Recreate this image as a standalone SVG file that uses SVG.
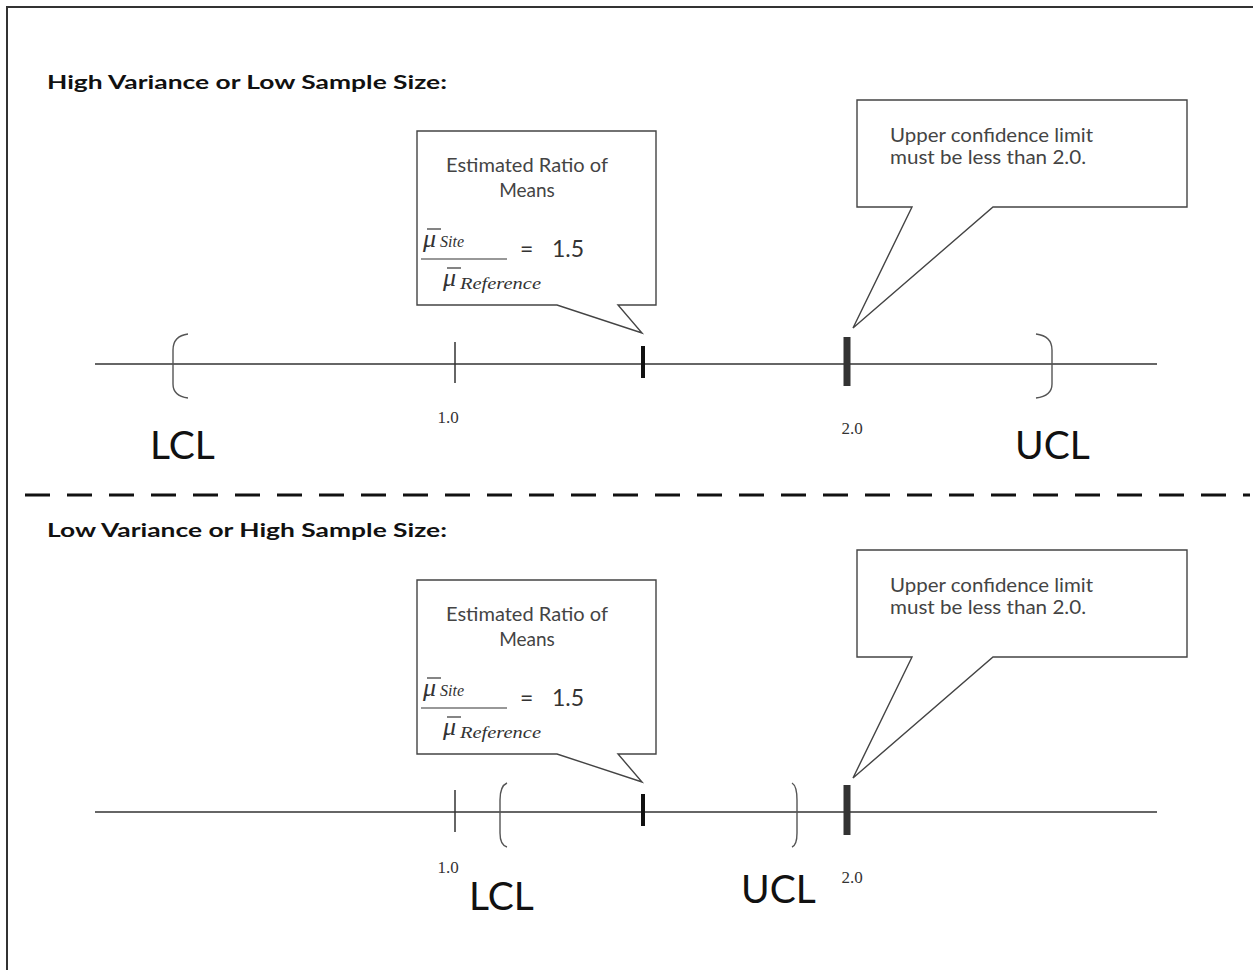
<svg xmlns="http://www.w3.org/2000/svg" width="1253" height="970" viewBox="0 0 1253 970">
<style>
.frame{fill:none;stroke:#333;stroke-width:2}
.axis{stroke:#333;stroke-width:1.4;fill:none}
.tick{stroke:#333;stroke-width:1.5}
.est{stroke:#111;stroke-width:4}
.lim{stroke:#333;stroke-width:7}
.br{stroke:#555;stroke-width:1.4;fill:none}
.call{fill:#fff;stroke:#444;stroke-width:1.4}
.title{font-family:Lato,"Open Sans",sans-serif;font-weight:bold;font-size:19px;fill:#111}
.big{font-family:Lato,"Open Sans",sans-serif;font-size:39px;fill:#111}
.num{font-family:"Liberation Serif",serif;font-size:17px;fill:#333}
.ct{font-family:Lato,"Open Sans",sans-serif;font-size:19px;fill:#444}
.mu{font-family:"Liberation Serif",serif;font-style:italic;font-size:26px;fill:#333}
.sub{font-family:"Liberation Serif",serif;font-style:italic;font-size:16px;fill:#333}
.eq{font-family:Lato,"Open Sans",sans-serif;font-size:23px;fill:#333}
.bar{stroke:#333;stroke-width:1.2}
.dash{stroke:#111;stroke-width:3;stroke-dasharray:25 17}
</style>
<rect class="frame" x="7" y="7" width="1300" height="1000"/>
<line class="dash" x1="25" y1="495" x2="1250" y2="495"/>

<g id="top-section">
<text class="title" x="47" y="89" textLength="400" lengthAdjust="spacingAndGlyphs">High Variance or Low Sample Size:</text>
</g>
<g id="connectors-top">
<line class="axis" x1="95" y1="364" x2="1157" y2="364"/>
<line class="tick" x1="455" y1="342" x2="455" y2="383"/>
<line class="est" x1="643" y1="346" x2="643" y2="378"/>
<line class="lim" x1="847" y1="337" x2="847" y2="386"/>
<path class="br" d="M188,334 Q173,336 173,350 V384 Q173,396 188,398"/>
<path class="br" d="M1036,334 Q1052,336 1052,350 V384 Q1052,396 1036,398"/>
</g>
<g id="top-labels">
<text class="num" x="448" y="423" text-anchor="middle">1.0</text>
<text class="num" x="852" y="434" text-anchor="middle">2.0</text>
<text class="big" x="150" y="459">LCL</text>
<text class="big" x="1015" y="459">UCL</text>
</g>
<g id="top-callout-ratio">
<path class="call" d="M417,131 H656 V305 H618 L642,333 L557,305 H417 Z"/>
<text class="ct" x="527" y="172" text-anchor="middle" textLength="162" lengthAdjust="spacingAndGlyphs">Estimated Ratio of</text>
<text class="ct" x="527" y="197" text-anchor="middle">Means</text>
<text class="mu" x="423" y="247">μ</text>
<line class="bar" x1="427" y1="229" x2="441" y2="229"/>
<text class="sub" x="440" y="247">Site</text>
<line class="bar" x1="421" y1="259" x2="507" y2="259"/>
<text class="mu" x="443" y="286">μ</text>
<line class="bar" x1="447" y1="268" x2="461" y2="268"/>
<text class="sub" x="460" y="289" textLength="81" lengthAdjust="spacingAndGlyphs">Reference</text>
<text class="eq" x="520" y="257">=</text>
<text class="eq" x="552" y="257">1.5</text>
</g>
<g id="top-callout-ucl">
<path class="call" d="M857,100 H1187 V207 H993 L853,328 L912,207 H857 Z"/>
<text class="ct" x="890" y="142" textLength="203" lengthAdjust="spacingAndGlyphs">Upper confidence limit</text>
<text class="ct" x="890" y="164" textLength="196" lengthAdjust="spacingAndGlyphs">must be less than 2.0.</text>
</g>

<g id="bottom-section">
<text class="title" x="47" y="537" textLength="400" lengthAdjust="spacingAndGlyphs">Low Variance or High Sample Size:</text>
</g>
<g id="connectors-bottom">
<line class="axis" x1="95" y1="812" x2="1157" y2="812"/>
<line class="tick" x1="455" y1="790" x2="455" y2="832"/>
<line class="est" x1="643" y1="794" x2="643" y2="826"/>
<line class="lim" x1="847" y1="785" x2="847" y2="835"/>
<path class="br" d="M507,783 Q500,786 500,800 V833 Q500,845 507,847"/>
<path class="br" d="M792,783 Q797,786 797,800 V833 Q797,845 792,847"/>
</g>
<g id="bottom-labels">
<text class="num" x="448" y="873" text-anchor="middle">1.0</text>
<text class="num" x="852" y="883" text-anchor="middle">2.0</text>
<text class="big" x="469" y="910">LCL</text>
<text class="big" x="741" y="903">UCL</text>
</g>
<g id="bottom-callout-ratio">
<path class="call" d="M417,580 H656 V754 H618 L642,782 L557,754 H417 Z"/>
<text class="ct" x="527" y="621" text-anchor="middle" textLength="162" lengthAdjust="spacingAndGlyphs">Estimated Ratio of</text>
<text class="ct" x="527" y="646" text-anchor="middle">Means</text>
<text class="mu" x="423" y="696">μ</text>
<line class="bar" x1="427" y1="678" x2="441" y2="678"/>
<text class="sub" x="440" y="696">Site</text>
<line class="bar" x1="421" y1="708" x2="507" y2="708"/>
<text class="mu" x="443" y="735">μ</text>
<line class="bar" x1="447" y1="717" x2="461" y2="717"/>
<text class="sub" x="460" y="738" textLength="81" lengthAdjust="spacingAndGlyphs">Reference</text>
<text class="eq" x="520" y="706">=</text>
<text class="eq" x="552" y="706">1.5</text>
</g>
<g id="bottom-callout-ucl">
<path class="call" d="M857,550 H1187 V657 H993 L853,778 L912,657 H857 Z"/>
<text class="ct" x="890" y="592" textLength="203" lengthAdjust="spacingAndGlyphs">Upper confidence limit</text>
<text class="ct" x="890" y="614" textLength="196" lengthAdjust="spacingAndGlyphs">must be less than 2.0.</text>
</g>
</svg>
